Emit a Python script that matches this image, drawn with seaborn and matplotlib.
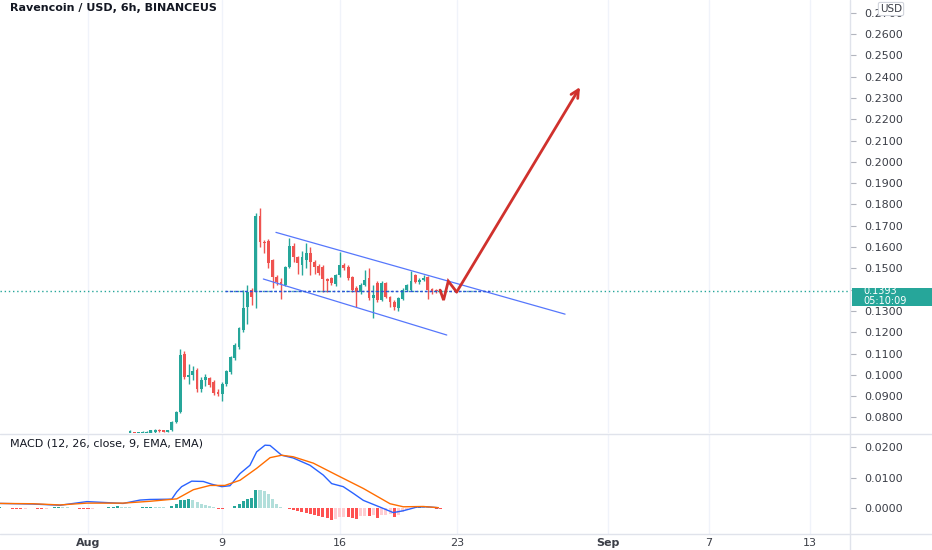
import numpy as np
import pandas as pd
import matplotlib
matplotlib.use("Agg")
import matplotlib.pyplot as plt
import matplotlib.transforms as mtransforms
from matplotlib.lines import Line2D
from matplotlib.patches import Rectangle
import seaborn as sns


# %%
# Data. Days are counted from Aug 1 (00:00), 6h candles.

velas_inicio = 2.5        # first visible candle: Aug 3, 12:00
velas_paso = 0.25

velas_open = [0.0722, 0.0730, 0.0725, 0.0727, 0.0728, 0.0728, 0.0730, 0.0742, 0.0740, 0.0733,
              0.0741, 0.0780, 0.0827, 0.1098, 0.0990, 0.1000, 0.1023, 0.0933, 0.0976, 0.0984,
              0.0968, 0.0921, 0.0910, 0.0957, 0.1015, 0.1078, 0.1132, 0.1210, 0.1320, 0.1398,
              0.1390, 0.1747, 0.1625, 0.1630, 0.1539, 0.1460, 0.1437, 0.1422, 0.1508, 0.1605,
              0.1555, 0.1515, 0.1539, 0.1570, 0.1531, 0.1511, 0.1508, 0.1448, 0.1453, 0.1425,
              0.1469, 0.1516, 0.1508, 0.1460, 0.1406, 0.1390, 0.1422, 0.1453, 0.1359, 0.1430,
              0.1350, 0.1430, 0.1367, 0.1342, 0.1315, 0.1355, 0.1400, 0.1400, 0.1469, 0.1438,
              0.1445, 0.1460, 0.1405, 0.1400, 0.1398]
velas_high = [0.0740, 0.0733, 0.0732, 0.0737, 0.0738, 0.0741, 0.0745, 0.0745, 0.0743, 0.0742,
              0.0782, 0.0832, 0.1121, 0.1114, 0.1050, 0.1041, 0.1030, 0.0990, 0.1005, 0.0990,
              0.0975, 0.0935, 0.0965, 0.1025, 0.1090, 0.1150, 0.1225, 0.1400, 0.1422, 0.1410,
              0.1758, 0.1785, 0.1633, 0.1640, 0.1545, 0.1470, 0.1455, 0.1510, 0.1641, 0.1620,
              0.1560, 0.1580, 0.1617, 0.1600, 0.1540, 0.1520, 0.1515, 0.1455, 0.1460, 0.1475,
              0.1578, 0.1525, 0.1515, 0.1465, 0.1415, 0.1430, 0.1492, 0.1500, 0.1420, 0.1440,
              0.1440, 0.1435, 0.1372, 0.1350, 0.1365, 0.1410, 0.1425, 0.1489, 0.1475, 0.1455,
              0.1470, 0.1465, 0.1410, 0.1405, 0.1402]
velas_low = [0.0715, 0.0720, 0.0718, 0.0722, 0.0723, 0.0724, 0.0726, 0.0733, 0.0731, 0.0730,
             0.0735, 0.0775, 0.0820, 0.0980, 0.0955, 0.0976, 0.0921, 0.0921, 0.0950, 0.0945,
             0.0905, 0.0900, 0.0879, 0.0950, 0.1005, 0.1070, 0.1120, 0.1200, 0.1240, 0.1330,
             0.1312, 0.1600, 0.1572, 0.1500, 0.1408, 0.1420, 0.1355, 0.1415, 0.1500, 0.1530,
             0.1473, 0.1470, 0.1500, 0.1469, 0.1475, 0.1470, 0.1390, 0.1390, 0.1420, 0.1415,
             0.1460, 0.1490, 0.1445, 0.1390, 0.1320, 0.1380, 0.1415, 0.1350, 0.1265, 0.1343,
             0.1345, 0.1360, 0.1320, 0.1305, 0.1300, 0.1350, 0.1395, 0.1395, 0.1430, 0.1425,
             0.1440, 0.1355, 0.1380, 0.1385, 0.1385]
velas_close = [0.0735, 0.0725, 0.0730, 0.0733, 0.0734, 0.0739, 0.0742, 0.0736, 0.0734, 0.0741,
               0.0780, 0.0827, 0.1093, 0.0991, 0.1000, 0.1020, 0.0932, 0.0976, 0.0990, 0.0952,
               0.0913, 0.0910, 0.0957, 0.1020, 0.1085, 0.1140, 0.1218, 0.1312, 0.1390, 0.1367,
               0.1747, 0.1625, 0.1617, 0.1524, 0.1460, 0.1437, 0.1427, 0.1505, 0.1605, 0.1555,
               0.1524, 0.1555, 0.1570, 0.1531, 0.1508, 0.1480, 0.1448, 0.1441, 0.1430, 0.1469,
               0.1516, 0.1500, 0.1453, 0.1398, 0.1390, 0.1422, 0.1445, 0.1359, 0.1375, 0.1350,
               0.1430, 0.1367, 0.1340, 0.1317, 0.1360, 0.1400, 0.1420, 0.1440, 0.1435, 0.1445,
               0.1455, 0.1398, 0.1395, 0.1395, 0.1393]

ultimo_precio = 0.1393
ultimo_tiempo = "05:10:09"

# MACD (12, 26, close, 9): MACD line and signal line
macd_dias = [-5.24, -3.28, -1.67, -0.06, 2.09, 3.10, 3.69, 4.99, 5.29, 5.58, 6.18, 6.87,
             7.37, 7.97, 8.46, 9.06, 9.65, 10.05, 10.55, 10.85, 11.54, 12.23, 13.23, 14.02,
             14.52, 15.21, 15.81, 16.41, 17.40, 18.19, 18.79, 19.59, 20.18, 20.88]
macd_linea = [0.0015, 0.0013, 0.0009, 0.0021, 0.0015, 0.0026, 0.0028, 0.0029, 0.0053, 0.0070,
              0.0088, 0.0087, 0.0078, 0.0070, 0.0073, 0.0113, 0.0140, 0.0184, 0.0206, 0.0205,
              0.0173, 0.0164, 0.0140, 0.0108, 0.0080, 0.0070, 0.0048, 0.0025, 0.0003, -0.0015,
              -0.0009, 0.0003, 0.0004, 0.0001]
senal_dias = [-5.24, -3.28, -1.67, -0.06, 2.09, 3.69, 5.29, 6.28, 7.27, 8.16, 9.06, 10.05,
              10.85, 11.54, 12.23, 13.43, 14.82, 16.41, 18.00, 18.79, 19.98, 20.88]
macd_senal = [0.0015, 0.0014, 0.0010, 0.0016, 0.0016, 0.0022, 0.0030, 0.0060, 0.0074, 0.0074,
              0.0091, 0.0130, 0.0165, 0.0173, 0.0168, 0.0147, 0.0108, 0.0064, 0.0014, 0.0004,
              0.0005, 0.0001]

# histogram, one bar per candle starting Jul 26, 18:00
hist_inicio = -5.25
hist_valores = [0.0002, 0.0001, -0.0001, -0.0002, -0.0002, -0.0003, -0.0002, -0.0001, 0.0001, -0.0002,
                -0.0004, -0.0002, 0.0001, 0.0002, 0.0003, 0.0003, 0.0002, 0.0001, -0.0001, -0.0002,
                -0.0002, -0.0003, -0.0002, -0.0001, -0.0001, 0.0001, 0.0003, 0.0004, 0.0005, 0.0004,
                0.0003, 0.0002, 0.0001, 0.0001, 0.0002, 0.0003, 0.0004, 0.0004, 0.0003, 0.0002,
                0.0001, 0.0007, 0.0014, 0.0025, 0.0027, 0.0028, 0.0025, 0.0020, 0.0014, 0.0010,
                0.0006, 0.0003, -0.0004, -0.0004, -0.0001, 0.0001, 0.0007, 0.0014, 0.0022, 0.0031,
                0.0033, 0.0058, 0.0058, 0.0055, 0.0047, 0.0031, 0.0014, 0.0003, 0.0001, -0.0002,
                -0.0006, -0.0009, -0.0012, -0.0015, -0.0019, -0.0022, -0.0025, -0.0028, -0.0034, -0.0040,
                -0.0037, -0.0030, -0.0028, -0.0030, -0.0033, -0.0035, -0.0027, -0.0025, -0.0025, -0.0024,
                -0.0033, -0.0024, -0.0022, -0.0021, -0.0030, -0.0022, -0.0014, -0.0007, -0.0002, 0.0003,
                0.0007, 0.0006, 0.0002, 0.0000, -0.0003, -0.0003]

# drawings on the chart
canal_sup_dias = [11.20, 28.43]
canal_sup_precios = [0.1669, 0.1285]
canal_inf_dias = [10.45, 21.38]
canal_inf_precios = [0.1450, 0.1187]
horizontal_dias = [8.16, 23.96]
flecha_dias = [20.98, 21.19, 21.47, 21.97, 29.32]
flecha_precios = [0.1398, 0.1351, 0.1440, 0.1389, 0.2351]

fechas_ticks = [0, 8, 15, 22, 31, 37, 43]
fechas_labels = ["Aug", "9", "16", "23", "Sep", "7", "13"]
precio_ticks = [round(0.08 + 0.01 * i, 2) for i in range(20)]
macd_ticks = [0.0, 0.01, 0.02]


# %%
VERDE = "#26a69a"
ROJO = "#ef5350"
GRIS_TXT = "#3b3e47"
GRIS_LINEA = "#e0e3eb"

sns.set_style("white")
plt.rcParams["font.family"] = ["DejaVu Sans"]

W, H = 932, 550
fig = plt.figure(figsize=(W / 100, H / 100), dpi=100)

ax = fig.add_axes([0, 1 - 433 / H, 850 / W, 433 / H])
ax2 = fig.add_axes([0, 1 - 534 / H, 850 / W, 100 / H], sharex=ax)

velas = pd.DataFrame({"open": velas_open, "high": velas_high,
                      "low": velas_low, "close": velas_close})
velas["dia"] = velas_inicio + velas_paso * np.arange(len(velas))
sube = velas["close"] >= velas["open"]
colores = np.where(sube, VERDE, ROJO)

ax.vlines(velas["dia"], velas["low"], velas["high"], colors=colores, linewidth=1, zorder=3)
cuerpo = (velas["close"] - velas["open"]).abs().clip(lower=0.0003)
ax.bar(velas["dia"], cuerpo, bottom=np.minimum(velas["open"], velas["close"]),
       width=0.17, color=colores, linewidth=0, zorder=4)

# current price line
ax.axhline(ultimo_precio, color=VERDE, linestyle=(0, (1, 2)), linewidth=1, zorder=2)

# trend channel and flag target
ax.plot(canal_sup_dias, canal_sup_precios, color="#5677fc", linewidth=0.9, zorder=5)
ax.plot(canal_inf_dias, canal_inf_precios, color="#5677fc", linewidth=0.9, zorder=5)
ax.plot(horizontal_dias, [ultimo_precio] * 2, color="#2a52d9", linewidth=1,
        linestyle=(0, (2, 1.5)), zorder=5)
ax.plot(flecha_dias[:-1], flecha_precios[:-1], color="#d0312d", linewidth=2,
        solid_joinstyle="miter", zorder=6)
ax.annotate("", xy=(flecha_dias[-1], flecha_precios[-1]),
            xytext=(flecha_dias[-2], flecha_precios[-2]),
            arrowprops=dict(arrowstyle="->", color="#d0312d", lw=2, mutation_scale=14,
                            shrinkA=0, shrinkB=0), zorder=6)

ax.set_xlim(-5.244, 45.41)
ax.set_ylim(0.0727, 0.2760)

# price label on the axis (price + countdown)
trans = mtransforms.blended_transform_factory(ax.transAxes, ax.transData)
ax.add_patch(Rectangle((1.0 + 2 / 850, ultimo_precio - 0.0070), 80 / 850, 0.0085,
                       transform=trans, facecolor=VERDE, edgecolor="none",
                       clip_on=False, zorder=10))
ax.text(1.0 + 13 / 850, ultimo_precio - 0.00225, f"{ultimo_precio:.4f}\n{ultimo_tiempo}",
        transform=trans, color="white", fontsize=7, linespacing=0.95,
        va="center", ha="left", zorder=11)

# %%
# MACD panel
dias_hist = hist_inicio + velas_paso * np.arange(len(hist_valores))
colores_hist = []
previo = 0.0
for v in hist_valores:
    if v >= 0:
        colores_hist.append("#26a69a" if v > previo else "#b2dfdb")
    else:
        colores_hist.append("#ffcdd2" if v > previo else "#ff5252")
    previo = v
ax2.bar(dias_hist, hist_valores, width=0.18, color=colores_hist, linewidth=0, zorder=3)

sns.lineplot(x=macd_dias, y=macd_linea, ax=ax2, color="#2962ff", linewidth=1, zorder=4)
sns.lineplot(x=senal_dias, y=macd_senal, ax=ax2, color="#ff6d00", linewidth=1, zorder=4)
ax2.set_ylim(-0.00852, 0.02426)

# %%
# axes styling
for a in (ax, ax2):
    for s in a.spines.values():
        s.set_visible(False)
    a.yaxis.tick_right()
    a.tick_params(axis="y", length=4, color="#b2b5be", labelsize=8, labelcolor=GRIS_TXT, pad=6)
    a.set_xticks(fechas_ticks)
    a.grid(axis="x", color="#f0f3fa", linewidth=1)
    a.set_axisbelow(True)
    a.set_xlabel("")
    a.set_ylabel("")

# the 0.1400 label sits under the price box, as in the original
ax.set_yticks(precio_ticks)
ax.set_yticklabels(["" if abs(p - 0.14) < 1e-9 else f"{p:.4f}" for p in precio_ticks])
ax.tick_params(axis="x", length=0, labelbottom=False)

ax2.set_yticks(macd_ticks)
ax2.set_yticklabels([f"{p:.4f}" for p in macd_ticks])
ax2.set_xticklabels(fechas_labels)
ax2.tick_params(axis="x", length=0, labelsize=8, labelcolor=GRIS_TXT, pad=3)
for lab in ax2.get_xticklabels():
    if lab.get_text() in ("Aug", "Sep"):
        lab.set_fontweight("bold")

# pane borders
fig.add_artist(Line2D([850 / W, 850 / W], [0, 1], color=GRIS_LINEA, linewidth=1))
fig.add_artist(Line2D([0, 1], [1 - 434 / H] * 2, color=GRIS_LINEA, linewidth=1))
fig.add_artist(Line2D([0, 1], [1 - 534 / H] * 2, color=GRIS_LINEA, linewidth=1))

fig.text(10 / W, 1 - 8 / H, "Ravencoin / USD, 6h, BINANCEUS", fontsize=8, fontweight="bold",
         color="#131722", va="center", ha="left")
fig.text(10 / W, 1 - 444 / H, "MACD (12, 26, close, 9, EMA, EMA)", fontsize=8,
         color="#131722", va="center", ha="left")
fig.text(891 / W, 1 - 9 / H, "USD", fontsize=7.5, color=GRIS_TXT, va="center", ha="center",
         zorder=20,
         bbox=dict(boxstyle="round,pad=0.15", facecolor="white", edgecolor="#d1d4dc", linewidth=0.8))

fig.savefig("out.png", dpi=100, facecolor="white")
